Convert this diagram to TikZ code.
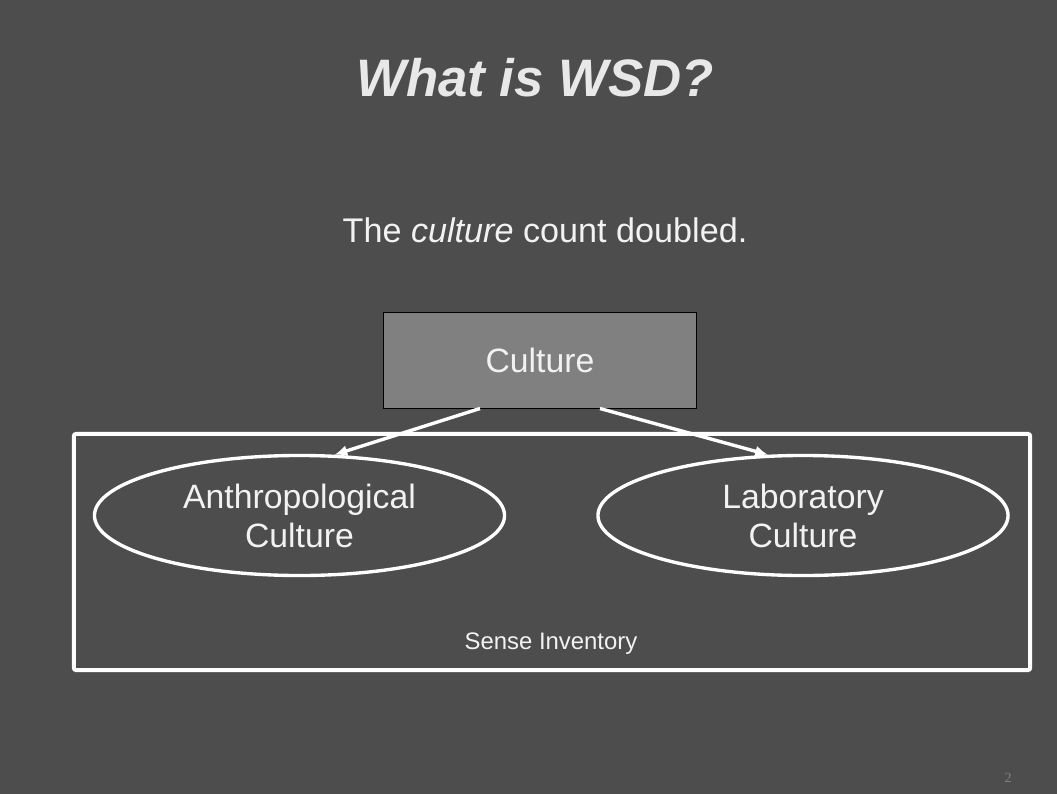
\documentclass[tikz,border=0pt]{standalone}
\usepackage{fontspec}
\setmainfont{Liberation Sans}
\newfontfamily\pagefont{Liberation Serif}
\usepackage{tikz}
\usetikzlibrary{shapes, arrows.meta, positioning}
\definecolor{slidebg}{HTML}{4D4D4D}
\definecolor{boxgray}{HTML}{808080}
\definecolor{lighttext}{HTML}{F2F2F2}
\definecolor{titletext}{HTML}{E8E8E8}
\tikzstyle{title} = [text=titletext, anchor=base, font=\fontsize{37.5}{40}\selectfont\bfseries\itshape]
\tikzstyle{body} = [text=lighttext, anchor=base, font=\fontsize{24.3}{28}\selectfont]
\tikzstyle{wordbox} = [rectangle, draw=black, line width=0.7pt, fill=boxgray, text=lighttext, font=\fontsize{24}{28}\selectfont, minimum width=7.8cm, minimum height=2.375cm]
\tikzstyle{sense} = [ellipse, draw=white, line width=2.4pt, text=lighttext, align=center, inner sep=0pt, font=\fontsize{24}{27.7}\selectfont, minimum width=10.25cm, minimum height=3cm]
\tikzstyle{inventory} = [rectangle, draw=white, line width=2.85pt, rounded corners=1.5pt, minimum width=23.9cm, minimum height=5.9cm]
\tikzstyle{small} = [text=lighttext, anchor=base, font=\fontsize{17}{20}\selectfont]
\tikzstyle{pagenum} = [text=boxgray, font=\pagefont\fontsize{10}{12}\selectfont]
\tikzstyle{line} = [draw=white, line width=2.4pt, -{Latex[length=9pt, width=8pt]}]

\begin{document}
\begin{tikzpicture}[x=0.025cm, y=-0.025cm]
	\fill [slidebg] (0,0) rectangle (1057,794);
	\useasboundingbox (0,0) rectangle (1057,794);

	\node [title] (head) at (535, 97) {What is WSD?};
	\node [body] (sentence) at (545, 242) {The \textit{culture} count doubled.};

	\node [inventory] (inv) at (552, 552) {};
	\node [small] (invlabel) at (551, 649) {Sense Inventory};

	\node [wordbox] (word) at (540, 360.5) {Culture};
	\node [sense] (anthro) at (299.5, 515.5) {Anthropological\\Culture};
	\node [sense] (lab) at (803, 515.5) {Laboratory\\Culture};

	\path [line] ([xshift=-1.5cm]word.south) -- (anthro.60);
	\path [line] ([xshift=1.5cm]word.south) -- (lab.120);

	\node [pagenum] (page) at (1008, 778) {2};
\end{tikzpicture}
\end{document}
